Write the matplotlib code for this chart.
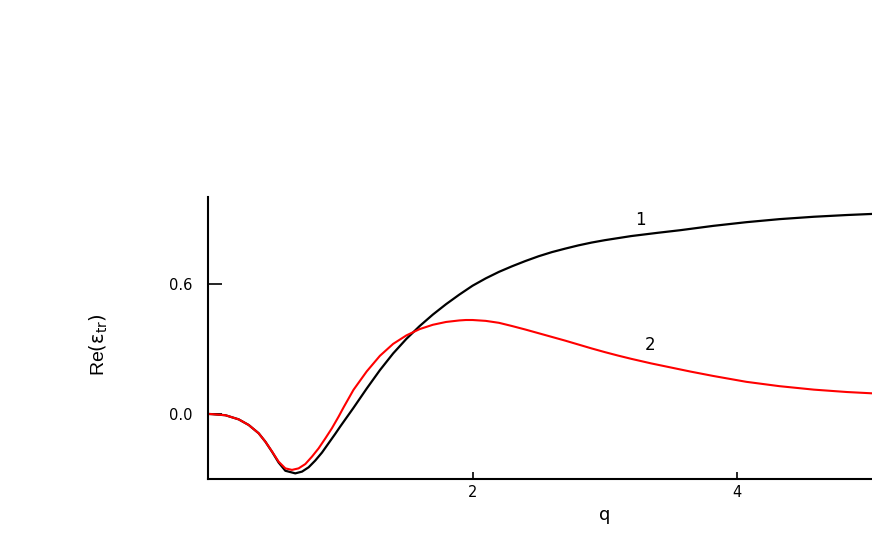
import numpy as np
import matplotlib.pyplot as plt

# curve 1 (black)
q1 = [0.0, 0.032, 0.132, 0.232, 0.308, 0.383, 0.434, 0.485, 0.534, 0.585, 0.660,
      0.711, 0.761, 0.811, 0.862, 0.912, 0.962, 1.0, 1.1, 1.2, 1.3, 1.4, 1.5,
      1.6, 1.7, 1.8, 1.9, 2.0, 2.1, 2.2, 2.3, 2.4, 2.5, 2.6, 2.7, 2.8, 2.9, 3.0,
      3.2, 3.4, 3.57, 3.82, 4.07, 4.32, 4.58, 4.83, 5.02]
re1 = [0.0, -0.001, -0.006, -0.025, -0.051, -0.089, -0.128, -0.175, -0.224, -0.262,
       -0.274, -0.266, -0.246, -0.215, -0.178, -0.135, -0.092, -0.058, 0.028,
       0.117, 0.202, 0.279, 0.346, 0.405, 0.458, 0.506, 0.550, 0.591, 0.625,
       0.655, 0.681, 0.705, 0.727, 0.746, 0.762, 0.777, 0.790, 0.801, 0.820,
       0.835, 0.847, 0.867, 0.884, 0.898, 0.909, 0.917, 0.922]

# curve 2 (red)
q2 = [0.0, 0.032, 0.132, 0.232, 0.308, 0.383, 0.434, 0.485, 0.534, 0.585, 0.635,
      0.685, 0.736, 0.786, 0.836, 0.887, 0.937, 0.987, 1.025, 1.1, 1.2, 1.3, 1.4,
      1.5, 1.6, 1.7, 1.8, 1.9, 1.95, 2.0, 2.1, 2.2, 2.3, 2.4, 2.5, 2.6, 2.7, 2.8,
      2.9, 3.0, 3.1, 3.2, 3.35, 3.5, 3.65, 3.82, 4.07, 4.32, 4.58, 4.83, 5.02]
re2 = [0.0, -0.001, -0.006, -0.025, -0.051, -0.089, -0.128, -0.174, -0.220, -0.251,
       -0.258, -0.251, -0.231, -0.197, -0.159, -0.113, -0.066, -0.013, 0.030,
       0.111, 0.196, 0.268, 0.323, 0.362, 0.391, 0.411, 0.424, 0.431, 0.433,
       0.433, 0.429, 0.420, 0.405, 0.389, 0.372, 0.355, 0.338, 0.320, 0.302,
       0.285, 0.269, 0.254, 0.233, 0.214, 0.195, 0.175, 0.148, 0.128, 0.112,
       0.101, 0.095]

xticks = [2, 4]
xticklabels = ['2', '4']
yticks = [0.0, 0.6]
yticklabels = ['0.0', '0.6']

fig = plt.figure(figsize=(8.72, 5.45), dpi=100)
ax = fig.add_axes([0.2385, 0.1211, 0.7615, 0.5174])

ax.plot(q1, re1, color='black', linewidth=1.6)
ax.plot(q2, re2, color='red', linewidth=1.5)

ax.set_xlim(0, 5.02)
ax.set_ylim(-0.30, 1.0)

for side in ['top', 'right']:
    ax.spines[side].set_visible(False)
for side in ['left', 'bottom']:
    ax.spines[side].set_linewidth(1.5)

ax.set_xticks(xticks)
ax.set_xticklabels(xticklabels)
ax.set_yticks(yticks)
ax.set_yticklabels(yticklabels)
ax.tick_params(direction='in', width=1.2, labelsize=10.5)
ax.tick_params(axis='x', length=5, pad=4)
ax.tick_params(axis='y', length=10, pad=11)

ax.set_xlabel('q', fontsize=13)
ax.xaxis.set_label_coords(0.598, -0.095)
ax.set_ylabel(r'Re$(\mathrm{\varepsilon}_{\mathrm{tr}})$', fontsize=14,
              family='Liberation Sans')
ax.yaxis.set_label_coords(-0.148, 0.475)

ax.text(3.27, 0.895, '1', fontsize=12, ha='center', va='center')
ax.text(3.34, 0.318, '2', fontsize=12, ha='center', va='center')

fig.savefig('out.png', dpi=100)
